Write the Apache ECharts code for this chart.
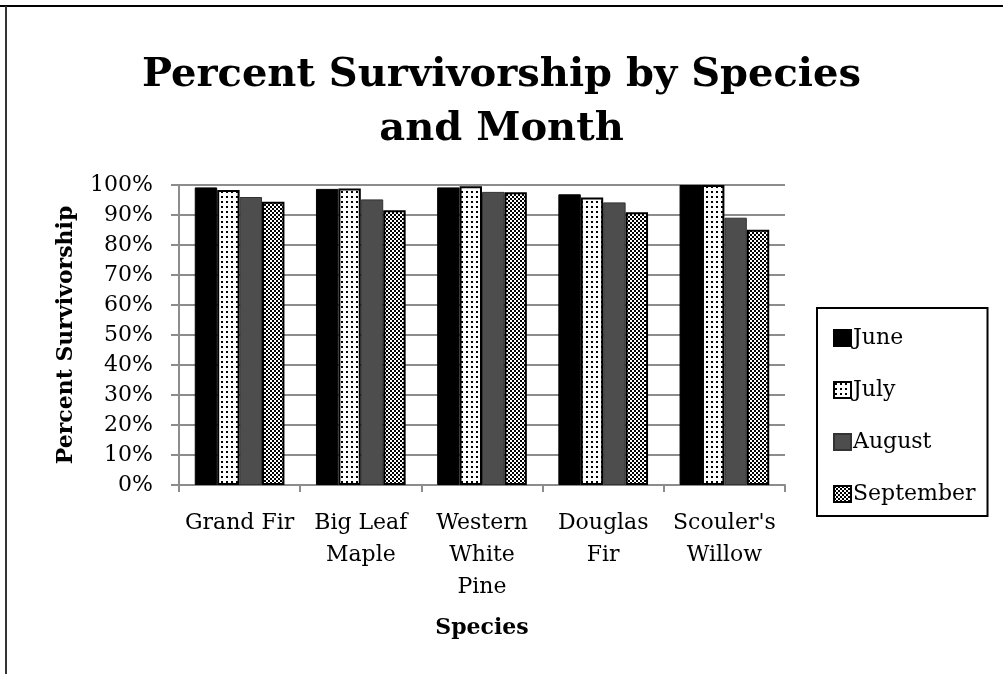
<!DOCTYPE html>
<html>
<head>
<meta charset="utf-8">
<script src="https://cdn.jsdelivr.net/npm/echarts@6/dist/echarts.min.js"></script>
<style>html,body{margin:0;padding:0;background:#fff;}#c{width:1003px;height:674px;}</style>
</head>
<body>
<div id="c"></div>
<script>
var categories = ["Grand Fir", "Big Leaf Maple", "Western White Pine", "Douglas Fir", "Scouler's Willow"];
var categoryLabels = ["Grand Fir", "Big Leaf\nMaple", "Western\nWhite\nPine", "Douglas\nFir", "Scouler's\nWillow"];
var months = ["June", "July", "August", "September"];
var june = [99.2, 98.7, 99.2, 96.9, 100];
var july = [98.3, 98.8, 99.6, 95.8, 100];
var august = [96.0, 95.2, 97.7, 94.2, 89.1];
var september = [94.4, 91.6, 97.6, 90.9, 85.1];
var yTicks = [0, 10, 20, 30, 40, 50, 60, 70, 80, 90, 100];

function makePattern(kind) {
  var c = document.createElement('canvas');
  var ctx = c.getContext('2d');
  if (kind === 'dots') {
    c.width = 5; c.height = 5;
    ctx.fillStyle = '#fff'; ctx.fillRect(0, 0, 5, 5);
    ctx.fillStyle = '#000'; ctx.fillRect(1, 1, 2, 2);
  } else {
    c.width = 4; c.height = 4;
    ctx.fillStyle = '#fff'; ctx.fillRect(0, 0, 4, 4);
    ctx.fillStyle = '#000';
    ctx.fillRect(0, 0, 2, 2); ctx.fillRect(2, 2, 2, 2);
  }
  return {image: c, repeat: 'repeat'};
}

var FONT = '"DejaVu Serif", "Liberation Serif", serif';
var styles = [
  {color: '#000', borderColor: '#000', borderWidth: 1},
  {color: makePattern('dots'), borderColor: '#000', borderWidth: 2},
  {color: '#4d4d4d', borderColor: '#333', borderWidth: 1},
  {color: makePattern('checker'), borderColor: '#000', borderWidth: 2}
];
var seriesData = [june, july, august, september];

var chart = echarts.init(document.getElementById('c'));
chart.setOption({
  animation: false,
  backgroundColor: '#fff',
  title: {
    text: 'Percent Survivorship by Species\nand Month',
    left: 'center', top: 44,
    textStyle: {fontFamily: FONT, fontWeight: 'bold', fontSize: 40, lineHeight: 54, color: '#000'}
  },
  graphic: [
    {type: 'line', shape: {x1: 0, y1: 6, x2: 1003, y2: 6}, style: {stroke: '#000', lineWidth: 2}},
    {type: 'line', shape: {x1: 6, y1: 6, x2: 6, y2: 674}, style: {stroke: '#333', lineWidth: 2}}
  ],
  legend: {
    orient: 'vertical',
    left: 817, top: 308,
    padding: [19, 12, 11, 16],
    itemGap: 30,
    itemWidth: 17, itemHeight: 16,
    icon: 'rect',
    borderColor: '#000', borderWidth: 2,
    textStyle: {fontFamily: FONT, fontSize: 22, color: '#000', padding: [0, 0, 0, -3]},
    data: months
  },
  grid: {left: 179, right: 218, top: 185, bottom: 189},
  xAxis: {
    type: 'category',
    data: categories,
    axisLine: {lineStyle: {color: '#8c8c8c', width: 2}},
    axisTick: {show: true, interval: 0, length: 7, lineStyle: {color: '#8c8c8c', width: 2}},
    axisLabel: {
      interval: 0,
      fontFamily: FONT, fontSize: 22, color: '#000', lineHeight: 32, margin: 22,
      formatter: function (v, i) { return categoryLabels[i]; }
    },
    name: 'Species',
    nameLocation: 'middle', nameGap: 132,
    nameTextStyle: {fontFamily: FONT, fontSize: 22, fontWeight: 'bold', color: '#000'}
  },
  yAxis: {
    type: 'value', min: 0, max: 100, interval: 10,
    axisLine: {show: true, lineStyle: {color: '#8c8c8c', width: 2}},
    axisTick: {show: true, length: 8, lineStyle: {color: '#8c8c8c', width: 2}},
    splitLine: {lineStyle: {color: '#8c8c8c', width: 2}},
    axisLabel: {fontFamily: FONT, fontSize: 22, color: '#000', margin: 26,
      formatter: function (v) { return yTicks.indexOf(v) >= 0 ? v + '%' : ''; }},
    name: 'Percent Survivorship',
    nameLocation: 'middle', nameGap: 102, nameRotate: 90,
    nameTextStyle: {fontFamily: FONT, fontSize: 22, fontWeight: 'bold', color: '#000'}
  },
  series: months.map(function (m, i) {
    return {
      name: m, type: 'bar', data: seriesData[i],
      barGap: '0%', barCategoryGap: '26%',
      itemStyle: styles[i]
    };
  })
});
</script>
</body>
</html>
